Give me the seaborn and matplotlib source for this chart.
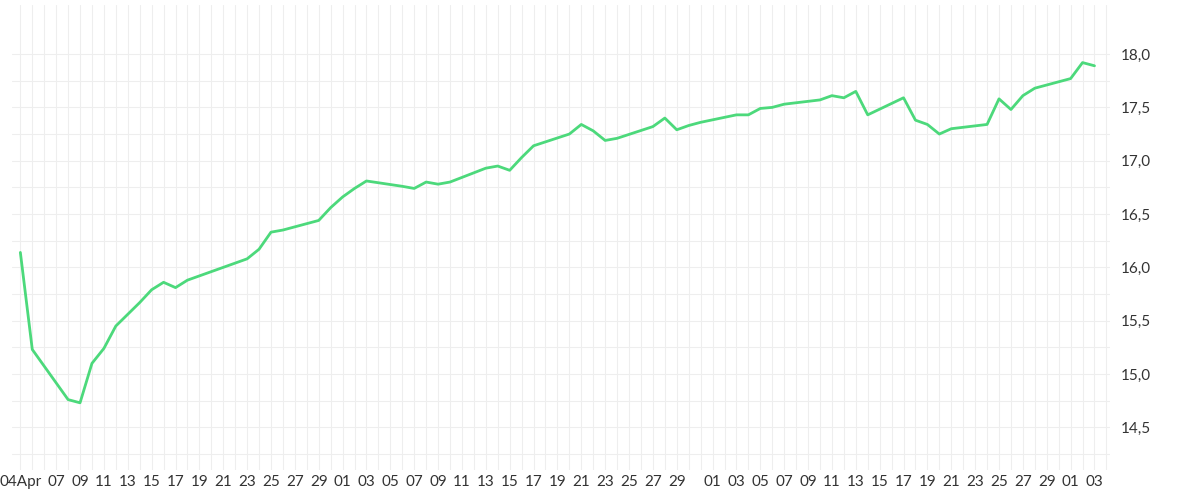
import pandas as pd
import matplotlib.pyplot as plt
import seaborn as sns

# day offsets from 4 April and values
day_offsets = [0, 1, 4, 5, 6, 7, 8, 9, 10, 11, 12, 13, 14, 19, 20, 21, 22, 25, 26, 27, 28, 29,
               32, 33, 34, 35, 36, 39, 40, 41, 42, 43, 46, 47, 48, 49, 50, 53, 54, 55, 56, 57,
               60, 61, 62, 63, 64, 67, 68, 69, 70, 71, 74, 75, 76, 77, 78, 81, 82, 83, 84, 85,
               88, 89, 90]
values = [16.14, 15.23, 14.76, 14.73, 15.10, 15.24, 15.45, 15.56, 15.67, 15.79, 15.86, 15.81, 15.88,
          16.08, 16.17, 16.33, 16.35, 16.44, 16.56, 16.66, 16.74, 16.81,
          16.76, 16.74, 16.80, 16.78, 16.80, 16.93, 16.95, 16.91, 17.03, 17.14,
          17.25, 17.34, 17.28, 17.19, 17.21, 17.32, 17.40, 17.29, 17.33, 17.36,
          17.43, 17.43, 17.49, 17.50, 17.53, 17.57, 17.61, 17.59, 17.65, 17.43,
          17.59, 17.38, 17.34, 17.25, 17.30, 17.34, 17.58, 17.48, 17.61, 17.68,
          17.77, 17.92, 17.89]
y_ticks = [14.5, 15.0, 15.5, 16.0, 16.5, 17.0, 17.5, 18.0]

start = pd.Timestamp("2024-04-04")
df = pd.DataFrame({"date": [start + pd.Timedelta(days=d) for d in day_offsets], "value": values})

sns.set_style("white")
plt.rcParams["font.family"] = "Lato"
fig, ax = plt.subplots(figsize=(12, 5), dpi=100)
sns.lineplot(data=df, x="date", y="value", color="#4cd97b", linewidth=2, ax=ax)

ax.set_xlim(start - pd.Timedelta(days=0.7), start + pd.Timedelta(days=91.3))
ax.set_ylim(14.1, 18.46)

# x tick labels: start day, then odd days except the 31st
all_days = pd.date_range(start, start + pd.Timedelta(days=91))
tick_days = [d for d in all_days if d == start or (d.day % 2 == 1 and d.day != 31 and d != start + pd.Timedelta(days=1))]
labels = ["04Apr" if d == start else f"{d.day:02d}" for d in tick_days]
ax.set_xticks(tick_days)
ax.set_xticklabels(labels)
ax.set_xticks(all_days, minor=True)

ax.yaxis.tick_right()
ax.set_yticks(y_ticks)
ax.set_yticklabels([f"{v:.1f}".replace(".", ",") for v in y_ticks])
ax.set_yticks([v + 0.25 for v in y_ticks[:-1]] + [14.25], minor=True)

ax.grid(True, which="both", color="#eeeeee", linewidth=0.8)
ax.tick_params(axis="both", which="both", length=0, labelsize=11, colors="#333333")
ax.tick_params(axis="y", pad=8)
for s in ax.spines.values():
    s.set_visible(False)
ax.set_xlabel("")
ax.set_ylabel("")

plt.subplots_adjust(left=0.01, right=0.925, top=0.99, bottom=0.06)
plt.savefig("out.png")
